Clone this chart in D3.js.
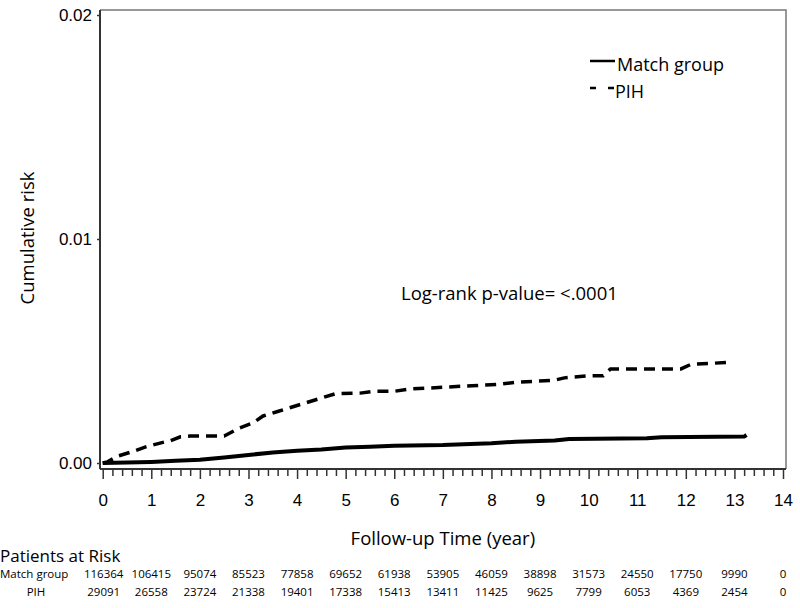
<!DOCTYPE html>
<html>
<head>
<meta charset="utf-8">
<script src="https://cdn.jsdelivr.net/npm/d3@7"></script>
<style>
  body { margin: 0; background: #fff; }
  svg { display: block; font-family: "Open Sans", "DejaVu Sans", sans-serif; }
  .axis text { fill: #000; }
  .axis line { stroke: #333; stroke-width: 1.5; }
</style>
</head>
<body>
<div class="chart"></div>
<script>
// Kaplan-Meier style cumulative risk
const timeMatch = [0, 0.5, 1, 1.5, 2, 2.5, 3, 3.5, 4, 4.5, 5, 5.5, 6, 7, 8, 8.5, 9.3, 9.6, 11.2, 11.5, 13.2, 13.25]
const riskMatch = [0, 0.00002, 0.00005, 0.0001, 0.00014, 0.00025, 0.00036, 0.00047, 0.00055, 0.0006, 0.00069, 0.00073, 0.00077, 0.0008, 0.00088, 0.00095, 0.001, 0.00107, 0.0011, 0.00115, 0.00118, 0.00125]

const timePIH = [0, 0.1, 0.3, 0.6, 0.9, 1.2, 1.4, 1.6, 1.8, 2.5, 2.8, 3.1, 3.3, 3.6, 3.9, 4.2, 4.5, 4.8, 5.3, 5.6, 6.0, 6.3, 7.0, 7.6, 8.1, 8.5, 9.3, 9.5, 10.0, 10.3, 10.45, 11.9, 12.1, 12.95]
const riskPIH = [0, 0.00005, 0.0003, 0.0005, 0.00073, 0.0009, 0.001, 0.00117, 0.0012, 0.0012, 0.00155, 0.0018, 0.0021, 0.0023, 0.0025, 0.0027, 0.0029, 0.0031, 0.00312, 0.0032, 0.0032, 0.0033, 0.00338, 0.00345, 0.0035, 0.0036, 0.0037, 0.0038, 0.0039, 0.0039, 0.0042, 0.0042, 0.0044, 0.0045]

const xTicks = d3.range(0, 15)
const yTicks = [0, 0.01, 0.02]

const groups = ["Match group", "PIH"]
const atRiskMatch = [116364, 106415, 95074, 85523, 77858, 69652, 61938, 53905, 46059, 38898, 31573, 24550, 17750, 9990, 0]
const atRiskPIH = [29091, 26558, 23724, 21338, 19401, 17338, 15413, 13411, 11425, 9625, 7799, 6053, 4369, 2454, 0]

const width = 800, height = 608
const frame = {left: 100, right: 786, top: 10, bottom: 469}

const x = d3.scaleLinear().domain([0, 14]).range([102.7, 783])
const y = d3.scaleLinear().domain([0, 0.02]).range([463, 15])

const svg = d3.select(".chart").append("svg")
    .attr("width", width)
    .attr("height", height)

// frame: top and right lighter, left and bottom are the axes
svg.append("path")
    .attr("d", "M" + frame.left + "," + frame.top + "H" + frame.right + "V" + frame.bottom)
    .attr("fill", "none")
    .attr("stroke", "#777")
    .attr("stroke-width", 1.5)

svg.append("line")
    .attr("x1", frame.left).attr("x2", frame.left)
    .attr("y1", frame.top).attr("y2", frame.bottom)
    .attr("stroke", "#333").attr("stroke-width", 2)

svg.append("line")
    .attr("x1", frame.left).attr("x2", frame.right)
    .attr("y1", frame.bottom).attr("y2", frame.bottom)
    .attr("stroke", "#333").attr("stroke-width", 2)

// x axis, major + minor ticks
const xAxis = svg.append("g")
    .attr("class", "axis")
    .attr("transform", "translate(0," + frame.bottom + ")")
    .call(d3.axisBottom(x).tickValues(xTicks).tickSize(10).tickPadding(15).tickFormat(d3.format("d")))
xAxis.select(".domain").remove()
xAxis.selectAll("text").style("font-size", "17px")

const minor = d3.range(0, 70).map(function(i) { return i / 5 }).filter(function(d) { return d % 1 !== 0 })
const xMinor = svg.append("g")
    .attr("class", "axis")
    .attr("transform", "translate(0," + frame.bottom + ")")
    .call(d3.axisBottom(x).tickValues(minor).tickSize(7).tickFormat(""))
xMinor.select(".domain").remove()

// y axis
const yAxis = svg.append("g")
    .attr("class", "axis")
    .attr("transform", "translate(" + frame.left + ",0)")
    .call(d3.axisLeft(y).tickValues(yTicks).tickSize(3).tickPadding(5).tickFormat(d3.format(".2f")))
yAxis.select(".domain").remove()
yAxis.selectAll("text").style("font-size", "17px")

// axis titles
svg.append("text")
    .attr("transform", "translate(34,238) rotate(-90)")
    .attr("text-anchor", "middle")
    .style("font-size", "18.5px")
    .attr("fill", "#000")
    .text("Cumulative risk")

svg.append("text")
    .attr("x", x(7))
    .attr("y", 545)
    .attr("text-anchor", "middle")
    .style("font-size", "18.5px")
    .attr("fill", "#000")
    .text("Follow-up Time (year)")

// curves
const line = d3.line()
    .x(function(d) { return x(d[0]) })
    .y(function(d) { return y(d[1]) })

svg.append("path")
    .datum(d3.zip(timeMatch, riskMatch))
    .attr("d", line)
    .attr("fill", "none")
    .attr("stroke", "#000")
    .attr("stroke-width", 4)

svg.append("path")
    .datum(d3.zip(timePIH, riskPIH))
    .attr("d", line)
    .attr("fill", "none")
    .attr("stroke", "#000")
    .attr("stroke-width", 3.5)
    .attr("stroke-dasharray", "11,7")

// legend
const legend = svg.selectAll(".legend")
    .data(groups)
  .enter().append("g")
    .attr("class", "legend")
    .attr("transform", function(d, i) { return "translate(590," + (61 + i * 27) + ")" })

legend.append("line")
    .attr("x1", 0).attr("x2", 25)
    .attr("stroke", "#000")
    .attr("stroke-width", 2.5)
    .attr("stroke-dasharray", function(d, i) { return i === 0 ? null : "6,12" })

legend.append("text")
    .attr("x", function(d, i) { return i === 0 ? 27 : 25 })
    .attr("y", 4)
    .attr("dy", ".35em")
    .style("font-size", "18px")
    .attr("fill", "#000")
    .text(function(d) { return d })

svg.append("text")
    .attr("x", 401)
    .attr("y", 300)
    .style("font-size", "18.5px")
    .attr("fill", "#000")
    .text("Log-rank p-value= <.0001")

// patients at risk table
svg.append("text")
    .attr("x", 0)
    .attr("y", 562)
    .style("font-size", "17px")
    .attr("fill", "#000")
    .text("Patients at Risk")

const rows = [atRiskMatch, atRiskPIH]
rows.forEach(function(vals, r) {
    const ry = 578 + r * 18
    svg.append("text")
        .attr("x", r === 0 ? 0 : 36)
        .attr("y", ry)
        .attr("text-anchor", r === 0 ? "start" : "middle")
        .style("font-size", "11.5px")
        .attr("fill", "#000")
        .text(groups[r])
    svg.selectAll(".risk" + r)
        .data(vals)
      .enter().append("text")
        .attr("class", "risk" + r)
        .attr("x", function(d, i) { return x(xTicks[i]) + (i === 0 ? 1 : 0) })
        .attr("y", ry)
        .attr("text-anchor", "middle")
        .style("font-size", "11.5px")
        .attr("fill", "#000")
        .text(function(d) { return d })
})
</script>
</body>
</html>
